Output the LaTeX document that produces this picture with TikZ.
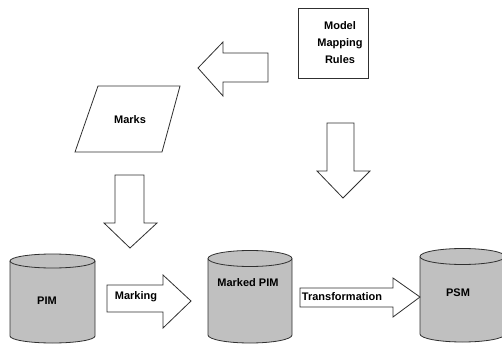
\documentclass[tikz,border=0pt]{standalone}
\usepackage{fontspec}
\setmainfont{Liberation Sans}
\definecolor{dbgray}{HTML}{C0C0C0}
\definecolor{edge}{HTML}{303030}
\tikzset{
  lbl/.style={font=\fontsize{11}{17}\selectfont\bfseries, inner sep=0pt, text=black},
  shapeline/.style={draw=edge, line width=0.8pt},
  blockarrow/.style={shapeline, fill=white, line join=miter},
}
\begin{document}
\begin{tikzpicture}[x=1pt, y=-1pt]
\useasboundingbox (0,0) rectangle (502,344);
\clip (0,0) rectangle (502,344);

% databases: body with rounded bottom, then the filled top ellipse
\path[shapeline, fill=dbgray] (10,261) -- (10,336)
  arc[start angle=180, end angle=360, x radius=42.5pt, y radius=7pt] -- (95,261);
\path[shapeline, fill=dbgray] (52.5,261) ellipse[x radius=42.5pt, y radius=7pt];

\path[shapeline, fill=dbgray] (208,258.5) -- (208,335)
  arc[start angle=180, end angle=360, x radius=42pt, y radius=8pt] -- (292,258.5);
\path[shapeline, fill=dbgray] (250,258.5) ellipse[x radius=42pt, y radius=8pt];

\path[shapeline, fill=dbgray] (420,256.5) -- (420,334)
  arc[start angle=180, end angle=360, x radius=42.5pt, y radius=8pt] -- (505,256.5);
\path[shapeline, fill=dbgray] (462.5,256.5) ellipse[x radius=42.5pt, y radius=8pt];

% rules box and marks parallelogram
\draw[shapeline] (298,8) rectangle (368,78);
\draw[shapeline] (98,86) -- (180,86) -- (162,152) -- (75,152) -- cycle;

% block arrows
\draw[blockarrow] (268,53) -- (223,53) -- (223,42) -- (198,68) -- (223,96) -- (223,82) -- (268,82) -- cycle;
\draw[blockarrow] (115,175) -- (144,175) -- (144,223) -- (157,223) -- (130,248) -- (104,223) -- (115,223) -- cycle;
\draw[blockarrow] (327,123) -- (354,123) -- (354,171) -- (370,171) -- (343,198) -- (317,171) -- (327,171) -- cycle;
\draw[blockarrow] (107,285) -- (163,285) -- (163,275) -- (191,301) -- (163,328) -- (163,312) -- (107,312) -- cycle;
\draw[blockarrow] (300,288) -- (393,288) -- (393,278) -- (420,297) -- (393,317) -- (393,307) -- (300,307) -- cycle;

% labels
\node[lbl, align=center] (rules) at (340,43) {Model\\Mapping\\Rules};
\node[lbl] (marks) at (130,120) {Marks};
\node[lbl] (pim) at (47,301) {PIM};
\node[lbl] (mpim) at (248,283) {Marked PIM};
\node[lbl] (psm) at (458,293) {PSM};
\node[lbl] (marking) at (136,297) {Marking};
\node[lbl] (transf) at (342,297) {Transformation};
\end{tikzpicture}
\end{document}
